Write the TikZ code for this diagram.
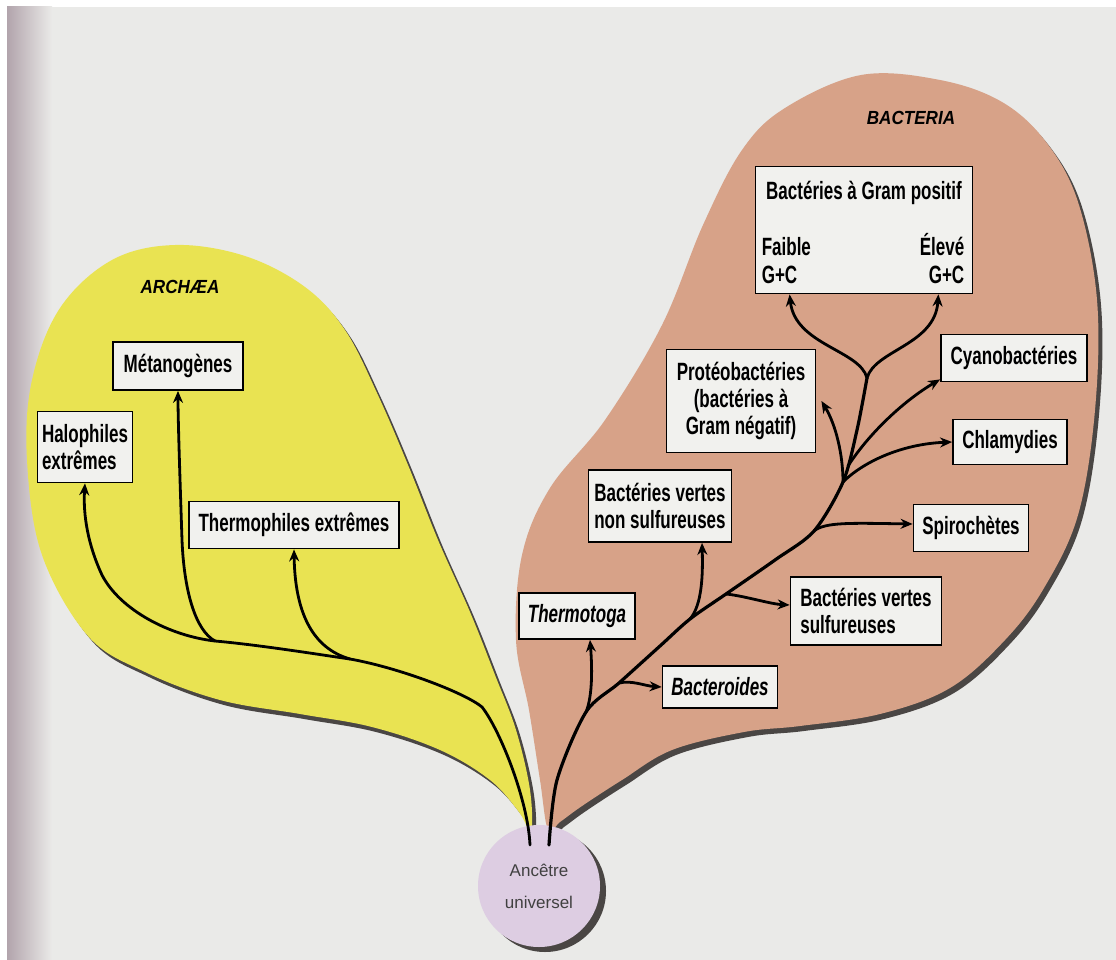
\documentclass[tikz,border=0pt]{standalone}
\usepackage{fontspec}
\setmainfont{Liberation Sans}[FakeStretch=0.68]
\newfontfamily\ancfont{Liberation Sans}
\newfontfamily\labelfont{Liberation Sans}[FakeStretch=0.9]
\usetikzlibrary{arrows.meta}

\definecolor{pagebg}{RGB}{234,234,232}
\definecolor{bandcol}{RGB}{178,164,172}
\definecolor{archaeacol}{RGB}{233,227,82}
\definecolor{bacteriacol}{RGB}{215,162,136}
\definecolor{ancestorcol}{RGB}{221,205,226}
\definecolor{rimcol}{RGB}{74,70,68}
\definecolor{boxcol}{RGB}{241,241,238}

\tikzset{
  taxon/.style={draw=black, line width=1.8, fill=boxcol, inner sep=0pt, align=center,
    font=\bfseries\fontsize{25}{27}\selectfont},
  taxonit/.style={taxon, font=\bfseries\itshape\fontsize{25}{27}\selectfont},
  plain/.style={inner sep=0pt, font=\bfseries\fontsize{25}{28}\selectfont},
  domainlabel/.style={font=\labelfont\bfseries\itshape\fontsize{19}{22}\selectfont},
  ancestor/.style={circle, fill=ancestorcol, minimum size=122, inner sep=0pt, align=center,
    text=black!75, font=\ancfont\fontsize{17}{32}\selectfont},
  trunk/.style={draw=black, line width=3.2, line cap=round},
  branch/.style={draw=black, line width=2.8, line cap=round, -{Stealth[length=12,width=10]}},
}

% outlines of the two domains, in pixel units
\newcommand{\archaeaoutline}{plot[smooth cycle, tension=0.6] coordinates {(531,832) (530,790)
  (516,730) (495,675) (470,612) (438,540) (408,465) (377,393) (345,330) (305,287) (245,256)
  (175,245) (112,260) (60,308) (32,380) (27,460) (42,555) (88,636) (145,672) (220,700)
  (300,714) (372,727) (440,750) (490,780) (519,812)}}
\newcommand{\bacteriaoutline}{plot[smooth cycle, tension=0.6] coordinates {(548,830) (540,780)
  (529,710) (516,640) (522,555) (550,488) (605,420) (662,325) (703,225) (742,150) (785,108)
  (861,75) (940,80) (1002,102) (1046,142) (1078,202) (1097,300) (1095,410) (1078,515)
  (1044,588) (1005,640) (950,688) (880,714) (800,726) (744,732) (672,750) (622,780)
  (582,806) (560,822)}}

\begin{document}
\begin{tikzpicture}[x=1pt, y=-1pt]
  \useasboundingbox (0,0) rectangle (1116,960);
  \fill[white] (0,0) rectangle (1116,960);
  \fill[pagebg] (7,7) rectangle (1116,960);
  \shade[left color=bandcol, right color=pagebg] (7,7) rectangle (52,960);

  % domains with their dark rims
  \fill[rimcol, shift={(4,5)}] \archaeaoutline;
  \fill[archaeacol] \archaeaoutline;
  \fill[rimcol, shift={(4,5)}] \bacteriaoutline;
  \fill[bacteriacol] \bacteriaoutline;

  \node[domainlabel] (archaealabel) at (180,287) {ARCHÆA};
  \node[domainlabel] (bacterialabel) at (911,118) {BACTERIA};

  % universal ancestor
  \fill[rimcol] (545,891) circle (61);
  \node[ancestor] (anc) at (539,886) {Ancêtre\\universel};
  \coordinate (aroot) at ([xshift=-9,yshift=41]anc.center);
  \coordinate (broot) at ([xshift=10,yshift=41]anc.center);

  % archaea
  \node[taxon, minimum width=130, minimum height=48] (meta) at (178,366) {Métanogènes};
  \node[taxon, align=left, minimum width=95, minimum height=71] (halo) at (85,447) {Halophiles\\extrêmes};
  \node[taxon, minimum width=210, minimum height=47] (thermo) at (294,525) {Thermophiles extrêmes};

  \coordinate (ajthermo) at (350,659);
  \coordinate (ajmeta) at (215,641);
  \draw[branch] (aroot) .. controls (528,800) and (500,730) .. (482,707)
    .. controls (465,693) and (400,668) .. (ajthermo)
    .. controls (322,655) and (260,645) .. (ajmeta)
    .. controls (170,636) and (120,610) .. (102,575)
    .. controls (88,545) and (83,515) .. (halo.south);
  \draw[branch] (ajmeta) .. controls (195,630) and (184,590) .. (182,540)
    .. controls (180,480) and (178,420) .. (meta.south);
  \draw[branch] (ajthermo) .. controls (312,648) and (295,612) .. (thermo.south);

  % bacteria
  \node[taxon, minimum width=217, minimum height=127] (gram) at (864,230) {};
  \node[plain, anchor=north] (gramtitle) at ([yshift=-15]gram.north) {Bactéries à Gram positif};
  \node[plain, anchor=south west, align=left] (gramlow) at ([xshift=7,yshift=10]gram.south west) {Faible\\G+C};
  \node[plain, anchor=south east, align=right] (gramhigh) at ([xshift=-9,yshift=10]gram.south east) {Élevé\\G+C};
  \node[taxon, minimum width=146, minimum height=47] (cyano) at (1014,358) {Cyanobactéries};
  \node[taxon, minimum width=149, minimum height=103] (proteo) at (741,401) {Protéobactéries\\(bactéries à\\Gram négatif)};
  \node[taxon, minimum width=114, minimum height=45] (chlam) at (1010,442) {Chlamydies};
  \node[taxon, align=left, minimum width=143, minimum height=72] (gnsb) at (660,506) {Bactéries vertes\\non sulfureuses};
  \node[taxon, minimum width=115, minimum height=47] (spiro) at (971,528) {Spirochètes};
  \node[taxon, align=left, minimum width=151, minimum height=68] (gsb) at (866,611) {Bactéries vertes\\sulfureuses};
  \node[taxonit, minimum width=116, minimum height=46] (tmt) at (577,616) {Thermotoga};
  \node[taxonit, minimum width=115, minimum height=42] (bcd) at (720,687) {Bacteroides};

  \coordinate (bjtmt) at (586,712);
  \coordinate (bjbcd) at (619,683);
  \coordinate (bjgnsb) at (690,619);
  \coordinate (bjgsb) at (726,594);
  \coordinate (bjspiro) at (814,531);
  \coordinate (bjchlam) at (843,482);
  \coordinate (bjcyano) at (848,466);
  \coordinate (bjfork) at (867,378);
  \draw[trunk] plot[smooth] coordinates {(broot) (557,780) (bjtmt) (bjbcd) (660,646) (bjgnsb)
    (bjgsb) (775,560) (bjspiro) (bjchlam) (857,430) (bjfork)};
  \draw[branch] (bjtmt) .. controls (593,695) and (592,665) .. ([xshift=13]tmt.south);
  \draw[branch] (bjbcd) .. controls (632,680) and (645,686) .. (bcd.west);
  \draw[branch] (bjgnsb) .. controls (702,605) and (703,575) .. ([xshift=42]gnsb.south);
  \draw[branch] (bjgsb) .. controls (745,596) and (770,604) .. ([yshift=6]gsb.west);
  \draw[branch] (bjspiro) .. controls (825,522) and (850,523) .. ([yshift=4]spiro.west);
  \draw[branch] (bjchlam) .. controls (862,463) and (900,444) .. (chlam.west);
  \draw[branch] (bjcyano) .. controls (870,432) and (905,400) .. ([yshift=3]cyano.south west);
  \draw[branch] (bjchlam) .. controls (843,455) and (836,425) .. ([xshift=5]proteo.east);
  \draw[branch] (bjfork) .. controls (860,350) and (795,345) .. ([xshift=35]gram.south west);
  \draw[branch] (bjfork) .. controls (875,350) and (935,345) .. ([xshift=-35]gram.south east);
\end{tikzpicture}
\end{document}
